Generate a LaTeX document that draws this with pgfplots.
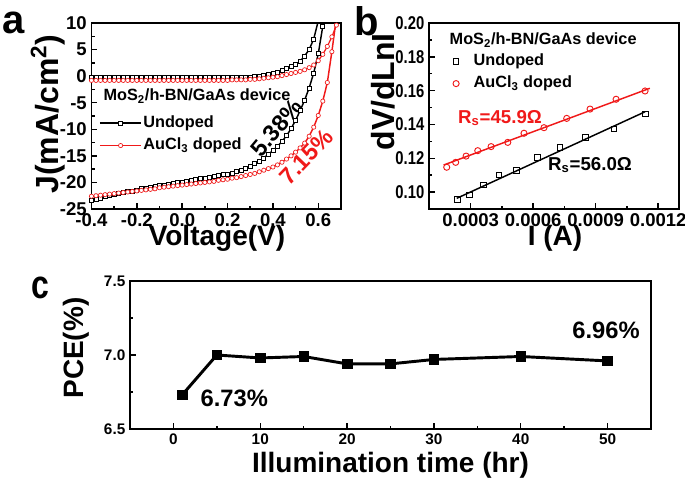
\documentclass[border=0pt]{standalone}
\usepackage{fontspec}
\setmainfont{Liberation Sans}
\newfontfamily\condfont[FakeStretch=0.8]{Liberation Sans}
\usepackage{pgfplots}
\usepackage{pgfplotstable}
\pgfplotsset{compat=1.18}
\newcommand{\fs}[1]{\fontsize{#1pt}{#1pt}\selectfont\bfseries}
\definecolor{myred}{RGB}{240,25,25}

\pgfplotstableread{
V Db Dr Lb Lr
-0.40 -0.3 -0.8 -23.3 -22.6
-0.38 -0.3 -0.8 -23.1 -22.5
-0.36 -0.3 -0.8 -22.9 -22.4
-0.34 -0.3 -0.8 -22.7 -22.3
-0.32 -0.3 -0.8 -22.5 -22.2
-0.30 -0.3 -0.8 -22.3 -22.1
-0.28 -0.3 -0.8 -22.1 -22.0
-0.26 -0.3 -0.8 -21.9 -21.9
-0.24 -0.3 -0.8 -21.7 -21.8
-0.22 -0.3 -0.8 -21.6 -21.7
-0.20 -0.3 -0.8 -21.4 -21.6
-0.18 -0.3 -0.8 -21.2 -21.5
-0.16 -0.3 -0.8 -21.1 -21.4
-0.14 -0.3 -0.8 -20.9 -21.3
-0.12 -0.3 -0.8 -20.8 -21.2
-0.10 -0.3 -0.8 -20.6 -21.0
-0.08 -0.3 -0.8 -20.5 -20.9
-0.06 -0.3 -0.8 -20.3 -20.8
-0.04 -0.3 -0.8 -20.2 -20.7
-0.02 -0.3 -0.8 -20.0 -20.6
0.00 -0.3 -0.8 -19.9 -20.5
0.02 -0.3 -0.8 -19.8 -20.4
0.04 -0.3 -0.8 -19.6 -20.3
0.06 -0.3 -0.8 -19.5 -20.2
0.08 -0.3 -0.8 -19.3 -20.1
0.10 -0.3 -0.8 -19.2 -20.0
0.12 -0.3 -0.8 -19.0 -19.9
0.14 -0.3 -0.8 -18.9 -19.8
0.16 -0.3 -0.8 -18.7 -19.6
0.18 -0.3 -0.8 -18.5 -19.5
0.20 -0.3 -0.8 -18.4 -19.4
0.22 -0.2 -0.7 -18.2 -19.2
0.24 -0.2 -0.7 -18.0 -19.1
0.26 -0.2 -0.7 -17.7 -18.9
0.28 -0.2 -0.7 -17.4 -18.7
0.30 -0.2 -0.6 -17.0 -18.5
0.32 -0.1 -0.6 -16.5 -18.3
0.34 0.0 -0.5 -16.0 -18.0
0.36 0.2 -0.4 -15.4 -17.7
0.38 0.4 -0.3 -14.7 -17.4
0.40 0.6 -0.2 -14.0 -17.1
0.42 0.8 -0.1 -13.2 -16.7
0.44 1.1 0.1 -12.3 -16.2
0.46 1.4 0.3 -11.2 -15.6
0.48 1.8 0.5 -9.9 -15.0
0.50 2.2 0.7 -8.3 -14.3
0.52 2.8 0.9 -6.5 -13.5
0.54 3.8 1.2 -4.5 -12.6
0.56 5.0 1.6 -2.2 -11.3
0.58 7.0 2.1 0.6 -9.6
0.60 10.4 2.9 4.2 -7.4
0.62 nan 4.1 9.4 -4.7
0.64 nan 5.6 16.0 -1.2
0.66 nan 7.4 nan 4.6
0.68 nan 9.6 nan 11.0
0.70 nan 12.0 nan nan
}\tabA

\pgfplotstableread{
I R
0.000236 0.0957
0.000294 0.0983
0.000361 0.1042
0.000435 0.1101
0.000521 0.1127
0.000620 0.1206
0.000729 0.1263
0.000852 0.1322
0.000988 0.1373
0.001140 0.1462
}\tabBu

\pgfplotstableread{
I R
0.000185 0.1147
0.000228 0.1176
0.000278 0.1213
0.000334 0.1245
0.000398 0.1269
0.000478 0.1294
0.000556 0.1348
0.000652 0.1381
0.000761 0.1436
0.000873 0.1491
0.000998 0.1549
0.001137 0.1598
}\tabBd

\pgfplotstableread{
t P
1 6.73
5 7.00
10 6.98
15 6.99
20 6.94
25 6.94
30 6.97
40 6.99
50 6.96
}\tabC

\begin{document}
\begin{tikzpicture}
\useasboundingbox (0pt,0pt) rectangle (513.75pt,-362.25pt);
\pgfplotsset{
  common/.style={scale only axis, anchor=north west,
    axis line style={line width=1.4pt},
    tick pos=left, tick align=inside,
    major tick length=4.5pt, minor tick length=2.5pt,
    every tick/.append style={line width=1.1pt, black},
    legend cell align=left},
}
% ---------------- panel a
\begin{axis}[common, at={(68.6pt,-17.25pt)}, width=187.1pt, height=139.5pt,
  xmin=-0.4, xmax=0.7, ymin=-25, ymax=10,
  xtick={-0.4,-0.2,0,0.2,0.4,0.6}, xticklabels={-0.4,-0.2,0.0,0.2,0.4,0.6},
  minor x tick num=1,
  ytick={-25,-20,-15,-10,-5,0,5,10}, yticklabels={-25,-20,-15,-10,-5,0,5,10},
  minor y tick num=1,
  ticklabel style={font=\fs{13.9}},
  xlabel={Voltage(V)}, ylabel={J(mA/cm\textsuperscript{2})},
  xlabel style={font=\fs{21}, at={(axis description cs:0.503,-0.156)}, anchor=center},
  ylabel style={font=\fs{24}, at={(axis description cs:-0.175,0.51)}, anchor=center},
  legend style={at={(axis description cs:0.03,0.515)}, anchor=north west, draw=none, fill=none,
    inner sep=0pt, font=\fs{12.2}, row sep=2.3pt,
    nodes={inner sep=1pt, text height=9.5pt, text depth=3pt}},
  legend image code/.code={\draw[#1] (0pt,0pt) -- (31pt,0pt); \draw[#1, only marks] plot coordinates {(15.5pt,0pt)};},
]
\addplot[black, line width=1.1pt, mark=square*, mark size=1.5pt, mark options={solid, line width=0.5pt, fill=white}, forget plot] table[x=V,y=Db]{\tabA};
\addplot[myred, line width=0.9pt, mark=*, mark size=1.6pt, mark options={solid, line width=0.5pt, fill=white}, forget plot] table[x=V,y=Dr]{\tabA};
\addplot[black, line width=1.1pt, mark=square*, mark size=1.5pt, mark options={solid, line width=0.5pt, fill=white}] table[x=V,y=Lb]{\tabA};
\addlegendentry{Undoped}
\addplot[myred, line width=1.1pt, mark=*, mark size=1.6pt, mark options={solid, line width=0.5pt, fill=white}] table[x=V,y=Lr]{\tabA};
\addlegendentry{AuCl\textsubscript{3} doped}
\node[anchor=west, font=\fs{12.2}] at (axis description cs:0.03,0.608) {MoS\textsubscript{2}/h-BN/GaAs device};
\node[rotate=50, font=\fs{17.5}] at (axis cs:0.415,-9.76) {5.38\%};
\node[rotate=46, font=\fs{17.5}, text=myred] at (axis cs:0.548,-15.2) {7.15\%};
\end{axis}
% ---------------- panel b
\begin{axis}[common, at={(321.75pt,-17.25pt)}, width=187.5pt, height=139.5pt,
  xmin=0.0001, xmax=0.0013, ymin=0.09, ymax=0.20,
  scaled x ticks=false, scaled y ticks=false,
  xtick={0.0003,0.0006,0.0009,0.0012}, xticklabels={0.0003,0.0006,0.0009,0.0012},
  minor x tick num=1,
  ytick={0.10,0.12,0.14,0.16,0.18,0.20}, yticklabels={0.10,0.12,0.14,0.16,0.18,0.20},
  minor y tick num=1,
  xticklabel style={font=\fs{13.9}},
  yticklabel style={font=\condfont\fs{13.9}},
  xlabel={I (A)}, ylabel={dV/dLnI},
  xlabel style={font=\fs{21}, at={(axis description cs:0.504,-0.156)}, anchor=center},
  ylabel style={font=\fs{24}, at={(axis description cs:-0.184,0.63)}, anchor=center},
  legend style={at={(axis description cs:0.095,0.848)}, anchor=north west, draw=none, fill=none,
    inner sep=0pt, font=\fs{12.2}, row sep=2.3pt,
    nodes={inner sep=1pt, text height=9.5pt, text depth=3pt}},
  legend image code/.code={\draw[#1] plot coordinates {(4pt,0pt)}; \path (16pt,0pt);},
]
\addplot[myred, line width=1.1pt, no marks, forget plot] coordinates {(0.00017,0.1160) (0.00116,0.1614)};
\addplot[black, line width=1.1pt, no marks, forget plot] coordinates {(0.000233,0.0963) (0.001137,0.1475)};
\addplot[black, only marks, mark=square, mark size=2.1pt, mark options={line width=0.7pt}] table[x=I,y=R]{\tabBu};
\addlegendentry{Undoped}
\addplot[myred, only marks, mark=o, mark size=2.3pt, mark options={line width=0.7pt}] table[x=I,y=R]{\tabBd};
\addlegendentry{AuCl\textsubscript{3} doped}
\node[anchor=west, font=\fs{12.2}] at (axis description cs:0.064,0.909) {MoS\textsubscript{2}/h-BN/GaAs device};
\node[font=\fs{14}, text=myred] at (axis cs:0.000441,0.1438) {R\textsubscript{s}=45.9Ω};
\node[font=\fs{14}] at (axis cs:0.000873,0.1160) {R\textsubscript{s}=56.0Ω};
\end{axis}
% ---------------- panel c
\begin{axis}[common, at={(97.5pt,-210.75pt)}, width=390.75pt, height=111pt,
  xmin=-5, xmax=55, ymin=6.5, ymax=7.5,
  xtick={0,10,20,30,40,50}, xticklabels={0,10,20,30,40,50}, minor x tick num=1,
  ytick={6.5,7.0,7.5}, yticklabels={6.5,7.0,7.5}, minor y tick num=1,
  ticklabel style={font=\fs{11.5}},
  xlabel={Illumination time (hr)}, ylabel={PCE(\%)},
  xlabel style={font=\fs{21}, at={(axis description cs:0.5,-0.243)}, anchor=center},
  ylabel style={font=\fs{21}, at={(axis description cs:-0.104,0.547)}, anchor=center},
]
\addplot[black, line width=2.2pt, mark=square*, mark size=3.6pt, mark options={solid, line width=0.5pt}] table[x=t,y=P]{\tabC};
\node[anchor=west, font=\fs{17.8}] at (axis cs:2.6,6.71) {6.73\%};
\node[anchor=west, font=\fs{17.8}] at (axis cs:45.4,7.169) {6.96\%};
\end{axis}
% panel letters
\node[font=\fs{30}] at (10pt,-17pt) {a};
\node[font=\fs{30}] at (275pt,-16pt) {b};
\node[font=\condfont\fs{30}] at (30pt,-216pt) {c};
\end{tikzpicture}
\end{document}
